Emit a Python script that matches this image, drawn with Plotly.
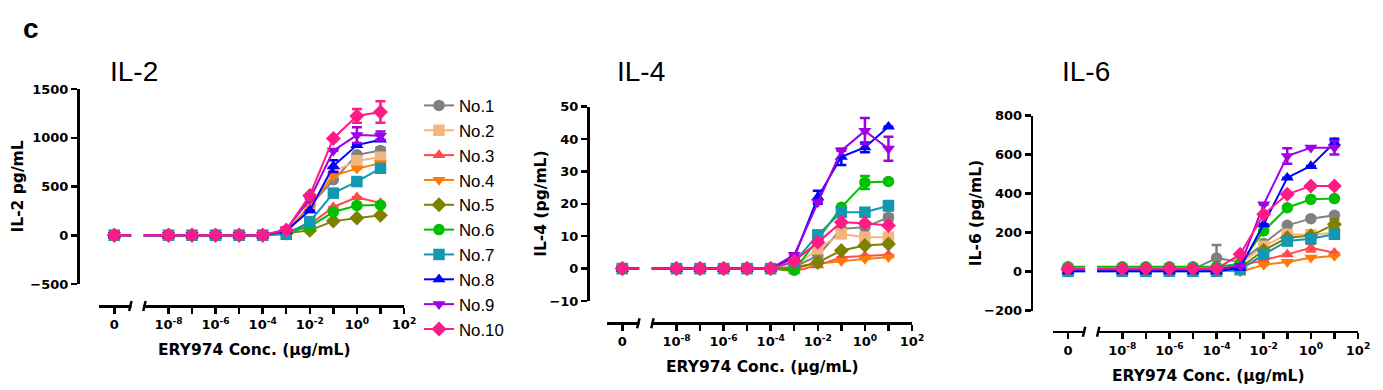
import plotly.graph_objects as go

W, H = 1383, 390

# ---------------- data ----------------
CONC = [0, 1e-8, 1e-7, 1e-6, 1e-5, 1e-4, 1e-3, 1e-2, 1e-1, 1e0, 1e1]
ZERO_AT = 10 ** -10.3          # where the "0" concentration sits on the log axis (axis break)
X_TICKVALS = [ZERO_AT, 1e-8, 1e-6, 1e-4, 1e-2, 1e0, 1e2]
X_TICKTEXT = ["0", "10<sup>-8</sup>", "10<sup>-6</sup>", "10<sup>-4</sup>",
              "10<sup>-2</sup>", "10<sup>0</sup>", "10<sup>2</sup>"]
X_MINOR_TICKVALS = [1e-7, 1e-5, 1e-3, 1e-1, 1e1]

DONORS = ["No.1", "No.2", "No.3", "No.4", "No.5", "No.6", "No.7", "No.8", "No.9", "No.10"]
COLORS = ["#808080", "#F4B67E", "#FF4B4B", "#FF7A0A", "#7F7F00",
          "#00C000", "#1497B0", "#0000FF", "#A000E6", "#FF1A85"]
SYMBOLS = ["circle", "square", "triangle-up", "triangle-down", "diamond",
           "circle", "square", "triangle-up", "triangle-down", "diamond"]

IL2 = [
    [0, 0, 0, 0, 0, 0, 40, 300, 570, 825, 870],
    [0, 0, 0, 0, 0, 0, 35, 280, 650, 765, 800],
    [0, 0, 0, 0, 0, 0, 30, 110, 290, 390, 330],
    [0, 0, 0, 0, 0, 0, 30, 290, 612, 683, 740],
    [0, 0, 0, 0, 0, 0, 20, 50, 145, 177, 204],
    [0, 0, 0, 0, 0, 0, 25, 90, 238, 306, 310],
    [0, 0, 0, 0, 0, 0, 10, 140, 432, 551, 687],
    [0, 0, 0, 0, 0, 0, 45, 255, 710, 925, 980],
    [0, 0, 0, 0, 0, 0, 60, 370, 867, 1027, 1020],
    [0, 0, 0, 0, 0, 0, 55, 408, 993, 1224, 1265],
]
IL2_ERR = [
    [0, 0, 0, 0, 0, 0, 0, 0, 0, 0, 30],
    [0, 0, 0, 0, 0, 0, 0, 0, 0, 0, 30],
    [0, 0, 0, 0, 0, 0, 0, 0, 0, 0, 0],
    [0, 0, 0, 0, 0, 0, 0, 0, 0, 0, 0],
    [0, 0, 0, 0, 0, 0, 0, 0, 0, 0, 0],
    [0, 0, 0, 0, 0, 0, 0, 0, 0, 0, 0],
    [0, 0, 0, 0, 0, 0, 0, 0, 0, 0, 0],
    [0, 0, 0, 0, 0, 0, 0, 0, 60, 0, 0],
    [0, 0, 0, 0, 0, 0, 0, 0, 0, 80, 45],
    [0, 0, 0, 0, 0, 0, 0, 0, 0, 70, 110],
]

IL4 = [
    [0, 0, 0, 0, 0, 0, 0.5, 4.0, 12.2, 12.8, 15.8],
    [0, 0, 0, 0, 0, 0, 0.5, 6.1, 10.7, 9.7, 9.7],
    [0, 0, 0, 0, 0, 0, -0.8, 1.0, 3.5, 4.0, 4.3],
    [0, 0, 0, 0, 0, 0, 0.2, 1.5, 2.3, 3.0, 3.5],
    [0, 0, 0, 0, 0, 0, 0.3, 1.9, 5.6, 7.1, 7.6],
    [0, 0, 0, 0, 0, 0, -0.5, 9.0, 18.9, 26.6, 26.9],
    [0, 0, 0, 0, 0, 0, 2.0, 10.4, 17.4, 17.4, 19.4],
    [0, 0, 0, 0, 0, 0, 3.5, 22.0, 34.5, 37.4, 43.8],
    [0, 0, 0, 0, 0, 0, 4.2, 20.5, 36.4, 42.5, 37.0],
    [0, 0, 0, 0, 0, 0, 2.3, 8.1, 14.3, 14.0, 13.3],
]
IL4_ERR = [
    [0, 0, 0, 0, 0, 0, 0, 0, 0, 0, 1.0],
    [0, 0, 0, 0, 0, 0, 0, 0, 0, 0, 0],
    [0, 0, 0, 0, 0, 0, 0, 0, 0, 0, 0],
    [0, 0, 0, 0, 0, 0, 0, 0, 0, 0, 0],
    [0, 0, 0, 0, 0, 0, 0, 0, 0, 0, 0],
    [0, 0, 0, 0, 0, 0, 0, 0, 0, 2.0, 0],
    [0, 0, 0, 0, 0, 0, 0, 0, 0, 0, 1.5],
    [0, 0, 0, 0, 0, 0, 0, 2.0, 2.5, 1.5, 0],
    [0, 0, 0, 0, 0, 0, 0, 0, 0, 4.0, 3.7],
    [0, 0, 0, 0, 0, 0, 0, 0, 0, 0, 0],
]

IL6 = [
    [12, 12, 12, 12, 12, 70, 50, 145, 238, 272, 289],
    [14, 14, 14, 14, 14, 14, 40, 130, 192, 190, 200],
    [10, 10, 10, 10, 10, 10, 30, 60, 89, 123, 97],
    [10, 10, 10, 10, 10, 10, 0, 35, 50, 72, 80],
    [10, 10, 10, 10, 10, 10, 20, 110, 174, 185, 243],
    [25, 25, 25, 25, 25, 25, 40, 209, 328, 371, 375],
    [2, 2, 2, 2, 2, 2, 10, 89, 157, 169, 192],
    [2, 2, 2, 2, 2, 2, 20, 243, 482, 542, 662],
    [12, 12, 12, 12, 12, 12, 30, 345, 593, 636, 636],
    [15, 15, 15, 15, 15, 15, 89, 294, 397, 440, 440],
]
IL6_ERR = [
    [0, 0, 0, 0, 0, 67, 0, 0, 0, 0, 0],
    [0, 0, 0, 0, 0, 0, 0, 0, 0, 0, 0],
    [0, 0, 0, 0, 0, 0, 0, 0, 0, 20, 0],
    [0, 0, 0, 0, 0, 0, 0, 0, 0, 0, 0],
    [0, 0, 0, 0, 0, 0, 0, 0, 0, 0, 25],
    [0, 0, 0, 0, 0, 0, 0, 0, 0, 0, 0],
    [0, 0, 0, 0, 0, 0, 0, 0, 0, 0, 0],
    [0, 0, 0, 0, 0, 0, 0, 0, 0, 0, 20],
    [0, 0, 0, 0, 0, 0, 0, 0, 40, 0, 35],
    [0, 0, 0, 0, 0, 0, 0, 0, 0, 0, 0],
]

PANEL_TITLES = ["IL-2", "IL-4", "IL-6"]
Y_TITLES = ["IL-2 pg/mL", "IL-4 (pg/mL)", "IL-6 (pg/mL)"]
Y_RANGES = [[-500, 1500], [-10, 50], [-200, 800]]
Y_DTICKS = [500, 10, 200]
X_TITLE = "ERY974 Conc. (\u03bcg/mL)"

# ---------------- geometry (page pixels) ----------------
PANELS = [
    dict(yx=78, ytop=89, ybot=284, xy=306, xl=99, xr=404, title=(108, 71), ytitle=17),
    dict(yx=588, ytop=106.6, ybot=301, xy=323.3, xl=607, xr=912, title=(615, 71), ytitle=541),
    dict(yx=1031.7, ytop=115.7, ybot=310.7, xy=331.7, xl=1052.7, xr=1358, title=(1060, 71), ytitle=976),
]
LOG_RANGE = [-10.95, 2.0]
GAP = (-9.62, -9.02)  # log10 extent of the axis break

BOLD = "DejaVu Sans"
REG = "Arial, Liberation Sans, sans-serif"
AX_W = 2.5
TICK_SIZE = 13
TITLE_SIZE = 15.5


def fx(px):
    return px / W


def fy(py):
    return 1 - py / H


fig = go.Figure()
data_sets = [(IL2, IL2_ERR), (IL4, IL4_ERR), (IL6, IL6_ERR)]
x_plot = [ZERO_AT if c == 0 else c for c in CONC]

for k, (vals, errs) in enumerate(data_sets):
    xa = "x" if k == 0 else f"x{k+1}"
    ya = "y" if k == 0 else f"y{k+1}"
    for i in range(10):
        fig.add_trace(go.Scatter(
            x=x_plot, y=vals[i], xaxis=xa, yaxis=ya,
            mode="lines+markers", name=DONORS[i], legendgroup=DONORS[i],
            showlegend=(k == 0),
            line=dict(color=COLORS[i], width=2),
            marker=dict(symbol=SYMBOLS[i], color=COLORS[i], size=11.5, line=dict(width=0)),
            error_y=dict(type="data", array=errs[i], visible=True, color=COLORS[i],
                         thickness=2.5, width=5),
            cliponaxis=False,
        ))

layout = dict(
    width=W, height=H, margin=dict(l=0, r=0, t=0, b=0, pad=0, autoexpand=False),
    plot_bgcolor="white", paper_bgcolor="white",
    showlegend=True,
    legend=dict(x=fx(419), y=fy(88), xanchor="left", yanchor="top",
                font=dict(family=REG, size=16.8, color="black"),
                bgcolor="rgba(0,0,0,0)", borderwidth=0, tracegroupgap=0,
                itemwidth=30),
)
shapes = []
annotations = [dict(text="<b>c</b>", x=fx(21), y=fy(29), xref="paper", yref="paper",
                    xanchor="left", yanchor="middle", showarrow=False,
                    font=dict(family="Arial, Liberation Sans", size=28, color="black"))]

for k, p in enumerate(PANELS):
    sx = "" if k == 0 else str(k + 1)
    dom_x = [fx(p["xl"]), fx(p["xr"])]
    dom_y = [fy(p["ybot"]), fy(p["ytop"])]
    layout["xaxis" + sx] = dict(
        type="log", range=LOG_RANGE, domain=dom_x, anchor="free", position=fy(p["xy"]),
        automargin=False,
        showline=True, linewidth=AX_W, linecolor="black", showgrid=False, zeroline=False,
        ticks="outside", ticklen=6, tickwidth=AX_W, tickcolor="black",
        tickmode="array", tickvals=X_TICKVALS, ticktext=X_TICKTEXT,
        minor=dict(tickmode="array", tickvals=X_MINOR_TICKVALS, ticks="outside",
                   ticklen=6, tickwidth=AX_W, tickcolor="black", showgrid=False),
        tickfont=dict(family=BOLD, size=TICK_SIZE, color="black", weight="bold"),
        fixedrange=True,
    )
    layout["yaxis" + sx] = dict(
        range=Y_RANGES[k], domain=dom_y, anchor="free", position=fx(p["yx"]),
        automargin=False,
        showline=True, linewidth=AX_W, linecolor="black", showgrid=False, zeroline=False,
        ticks="outside", ticklen=6, tickwidth=AX_W, tickcolor="black",
        dtick=Y_DTICKS[k], tick0=0,
        tickfont=dict(family=BOLD, size=TICK_SIZE, color="black", weight="bold"),
        fixedrange=True,
    )
    # axis break: blank gap + break marks
    span = p["xr"] - p["xl"]

    def lx(v):
        return p["xl"] + (v - LOG_RANGE[0]) / (LOG_RANGE[1] - LOG_RANGE[0]) * span

    g0, g1 = lx(GAP[0]), lx(GAP[1])
    shapes.append(dict(type="rect", xref="paper", yref="paper",
                       x0=fx(g0 + 1.2), x1=fx(g1 - 1.2), y0=fy(p["xy"] + 4), y1=fy(p["ytop"] - 20),
                       fillcolor="white", line=dict(width=0), layer="above"))
    for gx in (g0, g1):
        shapes.append(dict(type="line", xref="paper", yref="paper",
                           x0=fx(gx - 1.2), y0=fy(p["xy"] + 5), x1=fx(gx + 1.2), y1=fy(p["xy"] - 5),
                           line=dict(color="black", width=AX_W), layer="above"))
    # titles
    annotations.append(dict(text=PANEL_TITLES[k], x=fx(p["title"][0]), y=fy(p["title"][1]),
                            xref="paper", yref="paper", xanchor="left", yanchor="middle",
                            showarrow=False,
                            font=dict(family=REG, size=28, color="black")))
    annotations.append(dict(text=Y_TITLES[k], x=fx(p["ytitle"]), y=fy((p["ytop"] + p["ybot"]) / 2),
                            xref="paper", yref="paper", xanchor="center", yanchor="middle",
                            textangle=-90, showarrow=False,
                            font=dict(family=BOLD, size=TITLE_SIZE, color="black", weight="bold")))
    annotations.append(dict(text=X_TITLE, x=fx((p["xl"] + p["xr"]) / 2 + 3), y=fy(p["xy"] + 44),
                            xref="paper", yref="paper", xanchor="center", yanchor="middle",
                            showarrow=False,
                            font=dict(family=BOLD, size=TITLE_SIZE, color="black", weight="bold")))

layout["shapes"] = shapes
layout["annotations"] = annotations
fig.update_layout(**layout)
fig.write_html("out.html", config={"displayModeBar": False, "staticPlot": True},
               post_script="document.body.style.margin='0px';")
